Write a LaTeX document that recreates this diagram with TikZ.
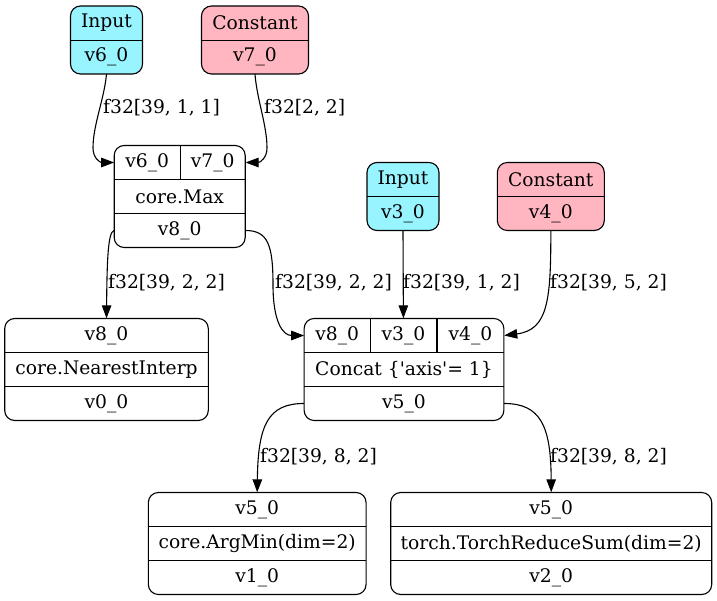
\documentclass[tikz,border=0pt]{standalone}
\usepackage{fontspec}
\setmainfont{DejaVu Serif}
\usetikzlibrary{arrows.meta}
\definecolor{inputcyan}{RGB}{152,245,255}
\definecolor{constpink}{RGB}{255,182,193}
\tikzset{
  recbox/.style={draw, line width=1.1pt, rounded corners=10pt, inner sep=0pt},
  cellbox/.style={inner sep=0pt, minimum height=34pt, font=\fontsize{18.7}{22}\selectfont},
  edgelbl/.style={inner sep=0pt, anchor=west, font=\fontsize{18.7}{22}\selectfont},
  sepline/.style={line width=1.1pt},
  flow/.style={line width=1.1pt, -{Triangle[length=13pt,width=9.5pt]}}
}

\begin{document}
\begin{tikzpicture}[x=1pt,y=-1pt]
\useasboundingbox (0,0) rectangle (717,601);
%\draw[step=50,gray,very thin] (0,0) grid (717,601);
\node[recbox, fill=inputcyan, minimum width=72pt, minimum height=68pt] (in6) at (106.5,40) {};
\node[cellbox, minimum width=72pt] (in6a) at (106.5,23) {Input};
\node[cellbox, minimum width=72pt] (in6b) at (106.5,57) {v6\_0};
\draw[sepline] (in6a.south west) -- (in6a.south east);
\node[recbox, fill=constpink, minimum width=107pt, minimum height=68pt] (c7) at (255,40) {};
\node[cellbox, minimum width=107pt] (c7a) at (255,23) {Constant};
\node[cellbox, minimum width=107pt] (c7b) at (255,57) {v7\_0};
\draw[sepline] (c7a.south west) -- (c7a.south east);
\node[recbox, fill=inputcyan, minimum width=72pt, minimum height=68pt] (in3) at (403,196.5) {};
\node[cellbox, minimum width=72pt] (in3a) at (403,179.5) {Input};
\node[cellbox, minimum width=72pt] (in3b) at (403,213.5) {v3\_0};
\draw[sepline] (in3a.south west) -- (in3a.south east);
\node[recbox, fill=constpink, minimum width=107pt, minimum height=68pt] (c4) at (550.8,196.5) {};
\node[cellbox, minimum width=107pt] (c4a) at (550.8,179.5) {Constant};
\node[cellbox, minimum width=107pt] (c4b) at (550.8,213.5) {v4\_0};
\draw[sepline] (c4a.south west) -- (c4a.south east);
\node[recbox, minimum width=131pt, minimum height=102pt] (max) at (179.7,196.5) {};
\node[cellbox, minimum width=65.7pt] (maxa) at (147.2,162.5) {v6\_0};
\node[cellbox, minimum width=65.3pt] (maxb) at (212.7,162.5) {v7\_0};
\node[cellbox, minimum width=131pt] (maxop) at (179.7,196.5) {core.Max};
\node[cellbox, minimum width=131pt] (maxout) at (179.7,230.5) {v8\_0};
\draw[sepline] (maxa.north east) -- (maxa.south east);
\draw[sepline] (maxa.south west) -- (maxb.south east);
\draw[sepline] (maxop.south west) -- (maxop.south east);
\node[recbox, minimum width=203.6pt, minimum height=102pt] (near) at (106.5,369.5) {};
\node[cellbox, minimum width=203.6pt] (nearin) at (106.5,335.5) {v8\_0};
\node[cellbox, minimum width=203.6pt] (nearop) at (106.5,369.5) {core.NearestInterp};
\node[cellbox, minimum width=203.6pt] (nearout) at (106.5,403.5) {v0\_0};
\draw[sepline] (nearin.south west) -- (nearin.south east);
\draw[sepline] (nearop.south west) -- (nearop.south east);
\node[recbox, minimum width=199.7pt, minimum height=102pt] (cat) at (404,369.5) {};
\node[cellbox, minimum width=65.7pt] (cata) at (337.2,335.5) {v8\_0};
\node[cellbox, minimum width=66.7pt] (catb) at (403.4,335.5) {v3\_0};
\node[cellbox, minimum width=67.3pt] (catc) at (470.4,335.5) {v4\_0};
\node[cellbox, minimum width=199.7pt] (catop) at (404,369.5) {Concat \{\textquotesingle axis\textquotesingle= 1\}};
\node[cellbox, minimum width=199.7pt] (catout) at (404,403.5) {v5\_0};
\draw[sepline] (cata.north east) -- (cata.south east);
\draw[sepline] (catb.north east) -- (catb.south east);
\draw[sepline] (cata.south west) -- (catc.south east);
\draw[sepline] (catop.south west) -- (catop.south east);
\node[recbox, minimum width=217.7pt, minimum height=102pt] (amin) at (257.2,543.5) {};
\node[cellbox, minimum width=217.7pt] (aminin) at (257.2,509.5) {v5\_0};
\node[cellbox, minimum width=217.7pt] (aminop) at (257.2,543.5) {core.ArgMin(dim=2)};
\node[cellbox, minimum width=217.7pt] (aminout) at (257.2,577.5) {v1\_0};
\draw[sepline] (aminin.south west) -- (aminin.south east);
\draw[sepline] (aminop.south west) -- (aminop.south east);
\node[recbox, minimum width=321pt, minimum height=102pt] (rsum) at (551.2,543.5) {};
\node[cellbox, minimum width=321pt] (rsumin) at (551.2,509.5) {v5\_0};
\node[cellbox, minimum width=321pt] (rsumop) at (551.2,543.5) {torch.TorchReduceSum(dim=2)};
\node[cellbox, minimum width=321pt] (rsumout) at (551.2,577.5) {v2\_0};
\draw[sepline] (rsumin.south west) -- (rsumin.south east);
\draw[sepline] (rsumop.south west) -- (rsumop.south east);
\draw[flow] (in6b.south) .. controls (104,100) and (93,125) .. (93,148) .. controls (93,158) and (100,162.5) .. (maxa.west);
\draw[flow] (c7b.south) .. controls (257,100) and (267,125) .. (267,148) .. controls (267,158) and (260,162.5) .. (maxb.east);
\draw[flow] (maxout.west) .. controls (108,232) and (107,260) .. (nearin.north);
\draw[flow] (maxout.east) .. controls (268,230.5) and (273,245) .. (273,285) .. controls (273,322) and (283,335.5) .. (cata.west);
\draw[flow] (in3b.south) -- (catb.north);
\draw[flow] (c4b.south) .. controls (551,300) and (548,330) .. (catc.east);
\draw[flow] (catout.west) .. controls (268,403.5) and (258,425) .. (aminin.north);
\draw[flow] (catout.east) .. controls (540,403.5) and (551,425) .. (rsumin.north);
\node[edgelbl] (lbl1) at (103,108) {f32[39, 1, 1]};
\node[edgelbl] (lbl2) at (264,108) {f32[2, 2]};
\node[edgelbl] (lbl3) at (108,283) {f32[39, 2, 2]};
\node[edgelbl] (lbl4) at (275,283) {f32[39, 2, 2]};
\node[edgelbl] (lbl5) at (403,283) {f32[39, 1, 2]};
\node[edgelbl] (lbl6) at (550,283) {f32[39, 5, 2]};
\node[edgelbl] (lbl7) at (260,457) {f32[39, 8, 2]};
\node[edgelbl] (lbl8) at (550,457) {f32[39, 8, 2]};
\end{tikzpicture}
\end{document}
